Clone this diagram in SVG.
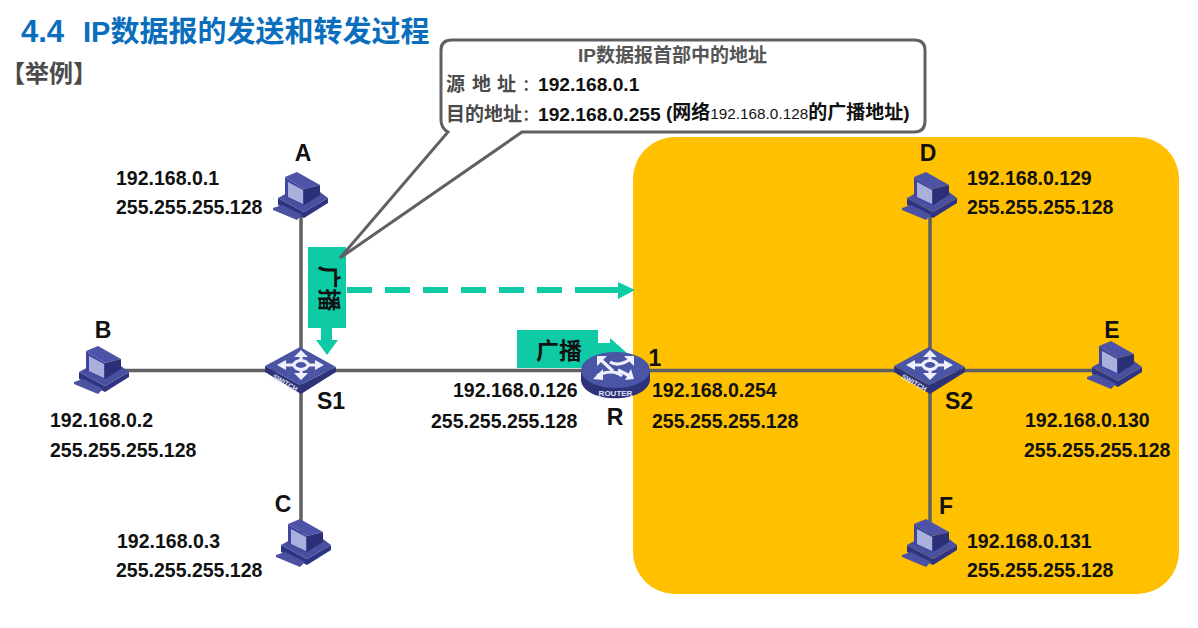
<svg xmlns="http://www.w3.org/2000/svg" width="1198" height="628" viewBox="0 0 1198 628">
<style>
text{font-family:"Liberation Sans","Noto Sans CJK SC",sans-serif;font-weight:bold;fill:#111}
.ip{font-size:19.5px}
.nm{font-size:23px}
.cn{font-size:19px;fill:#4a4a4a}
.co{font-size:15px}
.link{stroke:#5f6062;stroke-width:3.5;fill:none}
.tl{fill:#0ecba6}
.wh{fill:#eef0fb}
.whs{stroke:#eef0fb;stroke-width:3.2;fill:none}
</style>
<defs>
<g id="pc">
<path d="M-23 3 L3 17 L27 3 L27 8 L3 23 L-23 10Z" fill="#2f3482"/>
<path d="M-23 3 L-12 -3 L19 -3 L27 3 L3 17Z" fill="#4a50a0"/>
<path d="M-28 13 L-19 10 L1 20 L-4 25 L-28 15Z" fill="#4c52a2"/>
<path d="M-16 -18 L-4 -23 L19 -10 L3 -6Z" fill="#4d53a6"/>
<path d="M3 -6 L19 -10 L19 0 L3 10Z" fill="#2b2f78"/>
<path d="M-16 -18 L3 -6 L3 11 L-16 2Z" fill="#4046a0"/>
<path d="M-13 -13 L2 -5 L2 9 L-13 2Z" fill="#a9b0dc"/>
</g>
<g id="sw">
<path d="M-36 -1 L-36 5 L0 27 L35 5 L35 0 L-1 18Z" fill="#2e3278"/>
<path d="M-1 -20 L35 0 L-1 18 L-36 -1Z" fill="#4a55a5"/>
<path class="whs" d="M-17 -2 H-7 M7 -2 H17 M0 -11 V-7 M0 3 V8"/>
<ellipse class="whs" cx="0" cy="-2" rx="7" ry="4.5"/>
<path class="wh" d="M0 -17 L7 -10 H-7Z M0 13 L7 6 H-7Z M-24 -2 L-15 -7 V3Z M23 -2 L14 -7 V3Z"/>
<text x="-29" y="11" font-size="7" transform="rotate(30 -29 11)" style="fill:#dfe2f6">SWITCH</text>
</g>
</defs>
<rect width="1198" height="628" fill="#fff"/>
<rect x="633" y="137" width="546" height="457" rx="42" fill="#ffc000"/>
<text x="21" y="42" font-size="29" style="fill:#0a6ebd"><tspan font-size="31">4.4</tspan><tspan x="83">IP数据报的发送和转发过程</tspan></text>
<text x="1" y="82" font-size="24" style="fill:#4a4a4a">【举例】</text>
<g id="connectors">
<path class="link" d="M301 215 V545"/>
<path class="link" d="M120 370.500 H1092"/>
<path class="link" d="M930 215 V545"/>
<path d="M347 290 H563" stroke="#0ecba6" stroke-width="6" stroke-dasharray="25 13" fill="none"/>
<path d="M575 290 H620" stroke="#0ecba6" stroke-width="6" fill="none"/>
<path d="M618 282 L635 290 L618 299Z" fill="#0ecba6"/>
</g>
<g id="broadcast-down">
<path class="tl" d="M308 247 H346 V328 H332 V340 H338 L327 355 L316 340 H321 V328 H308Z"/>
<text x="327" y="288.500" font-size="23" text-anchor="middle" transform="rotate(90 327 288.500)" dominant-baseline="middle">广播</text>
</g>
<g id="callout">
<path d="M452 40 H914 Q925 40 925 50 V121 Q925 132 914 132 H522 L340 258 L448 132 Q441 128 441 120 V50 Q441 40 452 40Z" fill="#fff" stroke="#5f6062" stroke-width="3"/>
<text x="672.500" y="62" font-size="19" text-anchor="middle" style="fill:#555">IP数据报首部中的地址</text>
<text y="91" class="cn" x="446 472 497">源地址</text>
<text x="522.500" y="90" class="cn co">：</text>
<text x="538" y="91" class="ip" style="font-size:19.200px">192.168.0.1</text>
<text x="446" y="121" class="cn">目的地址</text>
<text x="522.500" y="120" class="cn co">：</text>
<text x="538" y="121" class="ip" style="font-size:19.200px">192.168.0.255</text>
<text x="666" y="119" font-size="19">(网络<tspan font-size="15.300" font-weight="normal">192.168.0.128</tspan>的广播地址)</text>
</g>
<g id="broadcast-right">
<path class="tl" d="M517 330 H598 V343 H610 V338 L627 353 L612 368 H517Z"/>
<text x="559" y="359" font-size="23" text-anchor="middle">广播</text>
</g>
<g id="node-A"><use href="#pc" x="301" y="195"/><text x="303" y="161" class="nm" text-anchor="middle">A</text><text x="116" y="185" class="ip">192.168.0.1</text><text x="116" y="214" class="ip">255.255.255.128</text></g>
<g id="node-B"><use href="#pc" x="102" y="369"/><text x="103" y="338" class="nm" text-anchor="middle">B</text><text x="50" y="427" class="ip">192.168.0.2</text><text x="50" y="457" class="ip">255.255.255.128</text></g>
<g id="node-C"><use href="#pc" x="304" y="542"/><text x="283" y="512" class="nm" text-anchor="middle">C</text><text x="117" y="548" class="ip">192.168.0.3</text><text x="116" y="577" class="ip">255.255.255.128</text></g>
<g id="node-D"><use href="#pc" x="930" y="195"/><text x="928" y="161" class="nm" text-anchor="middle">D</text><text x="967" y="185" class="ip">192.168.0.129</text><text x="967" y="214" class="ip">255.255.255.128</text></g>
<g id="node-E"><use href="#pc" x="1115" y="364"/><text x="1112" y="338" class="nm" text-anchor="middle">E</text><text x="1025" y="427" class="ip">192.168.0.130</text><text x="1024" y="457" class="ip">255.255.255.128</text></g>
<g id="node-F"><use href="#pc" x="930" y="542"/><text x="946" y="514" class="nm" text-anchor="middle">F</text><text x="967" y="548" class="ip">192.168.0.131</text><text x="967" y="577" class="ip">255.255.255.128</text></g>
<g id="node-S1"><use href="#sw" x="301" y="367"/><text x="331" y="409" class="nm" text-anchor="middle">S1</text></g>
<g id="node-S2"><use href="#sw" x="930" y="367"/><text x="959" y="409" class="nm" text-anchor="middle">S2</text></g>
<g id="node-R">
<path d="M581 370 V381 C585 404 645 404 650 381 V370Z" fill="#2e3278"/>
<ellipse cx="615.500" cy="370" rx="34.500" ry="18" fill="#4a55a5"/>
<path class="whs" d="M613 371 L601 360 M610 362 Q618 367 629 360 M618 370 L630 376 M622 376 Q612 368 597 376"/>
<path class="wh" d="M597 356 L607 356 L597 366Z M634 356 L624 356 L634 366Z M593 379 L603 369 L603 380Z M634 379 L625 380 L631 369Z"/>
<text x="615.500" y="396" font-size="8" text-anchor="middle" style="fill:#dfe2f6">ROUTER</text>
<text x="615" y="425" class="nm" text-anchor="middle">R</text>
<text x="655" y="366" class="nm" text-anchor="middle">1</text>
<text x="453" y="397" class="ip">192.168.0.126</text>
<text x="431" y="428" class="ip">255.255.255.128</text>
<text x="652" y="397" class="ip">192.168.0.254</text>
<text x="652" y="428" class="ip">255.255.255.128</text>
</g>
</svg>
